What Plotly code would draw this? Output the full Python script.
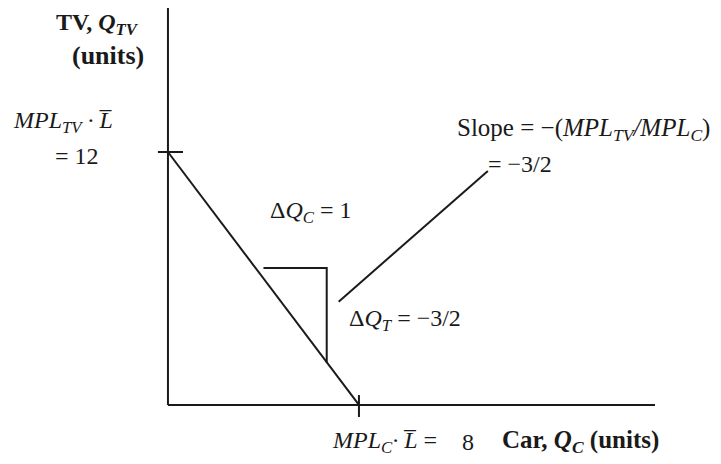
import plotly.graph_objects as go

# production possibilities frontier (TV vs Car)
car_max = 8
tv_max = 12
frontier_x = [0, car_max]
frontier_y = [tv_max, 0]

# axes extents
x_axis_end = 20.4
y_axis_end = 18.9

# slope triangle
tri_x = [4.0, 6.65, 6.65]
tri_y = [6.5, 6.5, 2.0]

# pointer from the slope label
pointer_x = [7.15, 13.4]
pointer_y = [4.9, 11.1]

# tick marks at the intercepts
ytick_x = [-0.42, 0.63]
ytick_y = [tv_max, tv_max]
xtick_x = [car_max, car_max]
xtick_y = [0.47, -0.57]

ink = "#1a1a1a"
serif = "Liberation Serif, Times New Roman, serif"

fig = go.Figure()

def seg(xs, ys):
    fig.add_trace(go.Scatter(x=xs, y=ys, mode="lines",
                             line=dict(color=ink, width=2),
                             hoverinfo="skip", showlegend=False))

seg([0, 0], [0, y_axis_end])
seg([0, x_axis_end], [0, 0])
seg(frontier_x, frontier_y)
seg(tri_x, tri_y)
seg(pointer_x, pointer_y)
seg(ytick_x, ytick_y)
seg(xtick_x, xtick_y)

labels = [
    ("<b>TV, <i>Q</i><sub><i>TV</i></sub></b>", -2.95, 18.05, 24),
    ("<b>(units)</b>", -2.53, 16.6, 26),
    ("<i>MPL</i><sub><i>TV</i></sub><i> · L\u0305</i>", -4.40, 13.43, 24),
    ("= 12", -3.83, 11.81, 24),
    ("Slope = \u2212(<i>MPL</i><sub><i>TV</i></sub><i>/MPL</i><sub><i>C</i></sub>)",
     17.40, 13.05, 25),
    ("= \u22123/2", 14.74, 11.43, 24),
    ("\u0394<i>Q</i><sub><i>C</i></sub> = 1", 6.01, 9.16, 24),
    ("\u0394<i>Q</i><sub><i>T</i></sub> = \u22123/2", 9.93, 4.03, 24),
    ("<i>MPL</i><sub><i>C</i></sub><i>·</i> <i>L\u0305</i> =", 9.05, -1.755, 24),
    (str(car_max), 12.56, -1.755, 24),
    ("<b>Car, <i>Q</i><sub><i>C</i></sub> (units)</b>", 17.30, -1.755, 25),
]
for text, x, y, size in labels:
    fig.add_annotation(x=x, y=y, text=text, showarrow=False,
                       xanchor="center", yanchor="middle",
                       font=dict(family=serif, size=size, color=ink))

# ranges shifted by the 8px body margin of the page
fig.update_layout(
    width=721, height=464,
    margin=dict(l=0, r=0, t=0, b=0),
    plot_bgcolor="white", paper_bgcolor="white",
    xaxis=dict(range=[-6.70, 23.50], visible=False, fixedrange=True),
    yaxis=dict(range=[-3.18, 18.83], visible=False, fixedrange=True),
)

fig.write_html("out.html")
